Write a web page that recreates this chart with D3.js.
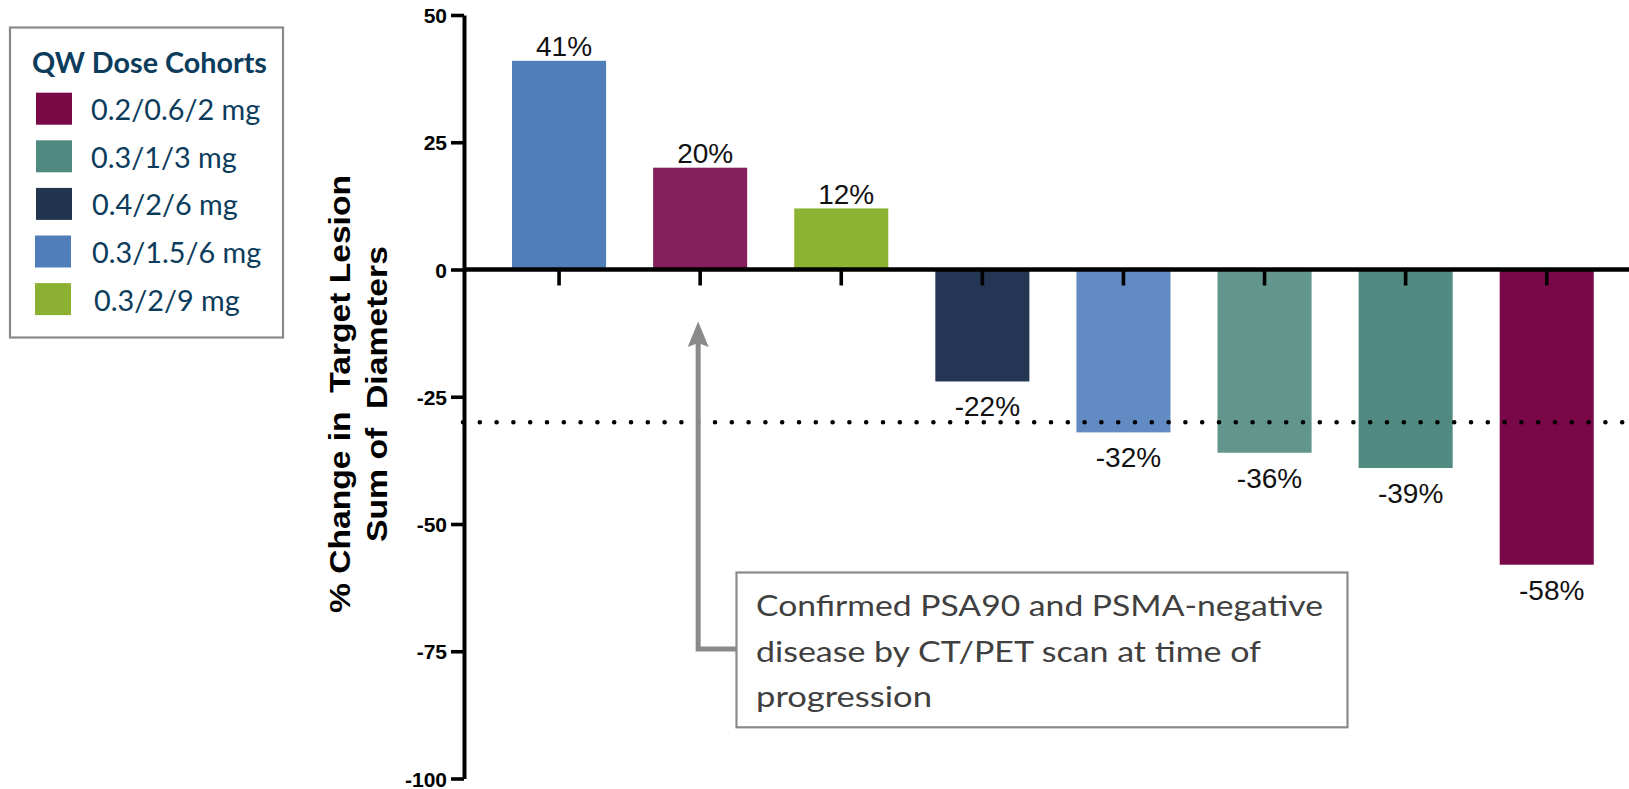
<!DOCTYPE html>
<html>
<head>
<meta charset="utf-8">
<script src="https://cdn.jsdelivr.net/npm/d3@7"></script>
<style>
  html, body { margin: 0; padding: 0; background: #ffffff; }
  svg { display: block; }
</style>
</head>
<body>
<svg id="chart" width="1629" height="789"></svg>
<script>
// Dose cohorts shown in the legend
const cohorts = ["0.2/0.6/2 mg", "0.3/1/3 mg", "0.4/2/6 mg", "0.3/1.5/6 mg", "0.3/2/9 mg"];
const cohortColors = ["#790846", "#4F8A80", "#22354F", "#4F7EBB", "#8CB132"];

// One bar per patient: best % change in target lesion sum of diameters
const patients = ["Pt 1", "Pt 2", "Pt 3", "Pt 4", "Pt 5", "Pt 6", "Pt 7", "Pt 8"];
const changeValues = [41, 20, 12, -22, -32, -36, -39, -58];
const patientCohort = ["0.3/1.5/6 mg", "0.2/0.6/2 mg", "0.3/2/9 mg", "0.4/2/6 mg",
                       "0.3/1.5/6 mg", "0.3/1/3 mg", "0.3/1/3 mg", "0.2/0.6/2 mg"];
// Individual bar shades (slight tint variations within a cohort)
const barShades = ["#4F7EBB", "#84205C", "#8DB333", "#233654",
                   "#628BC3", "#62968C", "#508A80", "#790849"];

const yTicks = [-100, -75, -50, -25, 0, 25, 50];
const responseThreshold = -30;

const annotationLines = [
  "Confirmed PSA90 and PSMA-negative",
  "disease by CT/PET scan at time of",
  "progression"
];
const annotatedPatient = "Pt 2";

const svg = d3.select("#chart");

const y = d3.scaleLinear().domain([-100, 50]).range([778.5, 15]);
const x = d3.scaleBand().domain(patients).range([465, 1640.8])
  .paddingInner(1 / 3).paddingOuter(1 / 3);
const cohortColor = d3.scaleOrdinal().domain(cohorts).range(cohortColors);

// ---- bars ----
svg.append("g").selectAll("rect")
  .data(patients)
  .join("rect")
  .attr("x", d => x(d))
  .attr("width", x.bandwidth())
  .attr("y", (d, i) => y(Math.max(0, changeValues[i])))
  .attr("height", (d, i) => Math.abs(y(changeValues[i]) - y(0)))
  .attr("fill", (d, i) => barShades[i] || cohortColor(patientCohort[i]));

// ---- value labels ----
svg.append("g").selectAll("text")
  .data(patients)
  .join("text")
  .attr("x", d => x(d) + x.bandwidth() / 2 + 5)
  .attr("y", (d, i) => changeValues[i] >= 0 ? y(changeValues[i]) - 4.5 : y(changeValues[i]) + 35)
  .attr("text-anchor", "middle")
  .attr("font-family", "'Liberation Sans', Arial, sans-serif")
  .attr("font-size", 28)
  .attr("fill", "#111111")
  .text((d, i) => `${changeValues[i]}%`);

// ---- response threshold (dotted) ----
svg.append("line")
  .attr("x1", 463).attr("x2", 1629)
  .attr("y1", y(responseThreshold)).attr("y2", y(responseThreshold))
  .attr("stroke", "#000")
  .attr("stroke-width", 4.6)
  .attr("stroke-linecap", "round")
  .attr("stroke-dasharray", "0 16.8");

// ---- zero baseline + category ticks ----
svg.append("line")
  .attr("x1", 463).attr("x2", 1629)
  .attr("y1", y(0)).attr("y2", y(0))
  .attr("stroke", "#000")
  .attr("stroke-width", 4.5);

const xAxis = svg.append("g")
  .attr("transform", `translate(0,${y(0)})`)
  .call(d3.axisBottom(x).tickSize(16).tickFormat(""));
xAxis.select(".domain").remove();
xAxis.selectAll(".tick line").attr("stroke", "#000").attr("stroke-width", 3.6);

// ---- y axis ----
const yAxis = svg.append("g")
  .attr("transform", "translate(464,0)")
  .call(d3.axisLeft(y).tickValues(yTicks).tickSize(13).tickSizeOuter(0).tickPadding(4)
    .tickFormat(d => String(d)));
yAxis.select(".domain").attr("stroke", "#000").attr("stroke-width", 4);
yAxis.selectAll(".tick line").attr("stroke", "#000").attr("stroke-width", 3.6);
yAxis.selectAll(".tick text")
  .attr("font-family", "'Liberation Sans', Arial, sans-serif")
  .attr("font-weight", "bold")
  .attr("font-size", 21)
  .attr("fill", "#000")
  .attr("dy", "0.36em");

// ---- y axis title ----
const titleLines = [
  { text: "% Change in  Target Lesion", bx: 350, len: 438 },
  { text: "Sum of  Diameters", bx: 387, len: 296 }
];
titleLines.forEach(t => {
  svg.append("text")
    .attr("transform", `translate(${t.bx},394) rotate(-90)`)
    .attr("text-anchor", "middle")
    .attr("font-family", "'Liberation Sans', Arial, sans-serif")
    .attr("font-weight", "bold")
    .attr("font-size", 29.5)
    .attr("fill", "#000")
    .attr("textLength", t.len)
    .attr("lengthAdjust", "spacingAndGlyphs")
    .style("white-space", "pre")
    .text(t.text);
});

// ---- legend ----
const legend = svg.append("g");
legend.append("rect")
  .attr("x", 10).attr("y", 27.5)
  .attr("width", 273).attr("height", 310)
  .attr("fill", "#fff")
  .attr("stroke", "#8a8a8a")
  .attr("stroke-width", 2.2);
legend.append("text")
  .attr("x", 32).attr("y", 73.3)
  .attr("font-family", "Lato, 'Open Sans', sans-serif")
  .attr("font-weight", "bold")
  .attr("font-size", 28)
  .attr("fill", "#0C3C5C")
  .attr("textLength", 235)
  .attr("lengthAdjust", "spacingAndGlyphs")
  .text("QW Dose Cohorts");

const legendItems = legend.selectAll("g.item")
  .data(cohorts)
  .join("g")
  .attr("class", "item")
  .attr("transform", (d, i) => `translate(0,${92.7 + i * 47.6})`);
legendItems.append("rect")
  .attr("x", (d, i) => i >= 3 ? 35 : 36)
  .attr("width", 36).attr("height", 32)
  .attr("fill", d => cohortColor(d));
legendItems.append("text")
  .attr("x", (d, i) => [91, 91, 92, 92, 94][i])
  .attr("y", 27.5)
  .attr("font-family", "Lato, 'Open Sans', sans-serif")
  .attr("font-size", 28.8)
  .attr("fill", "#0C3C5C")
  .text(d => d);

// ---- annotation: arrow + note box ----
const arrowX = x(annotatedPatient) + x.bandwidth() / 2 - 2;
const annGrey = "#8a8a8a";
svg.append("path")
  .attr("d", `M736,649 L${arrowX},649 L${arrowX},342`)
  .attr("fill", "none")
  .attr("stroke", annGrey)
  .attr("stroke-width", 5)
  .attr("stroke-linejoin", "miter");
svg.append("path")
  .attr("d", `M${arrowX},321.5 L${arrowX + 10.5},347 L${arrowX},343 L${arrowX - 10.5},347 Z`)
  .attr("fill", annGrey);

svg.append("rect")
  .attr("x", 736.5).attr("y", 572.5)
  .attr("width", 611).attr("height", 154.8)
  .attr("fill", "#fff")
  .attr("stroke", annGrey)
  .attr("stroke-width", 2.2);

const annLens = [567, 505, 176];
svg.append("g").selectAll("text")
  .data(annotationLines)
  .join("text")
  .attr("x", 756)
  .attr("y", (d, i) => 616 + i * 45.5)
  .attr("font-family", "Lato, 'Open Sans', sans-serif")
  .attr("font-size", 29.5)
  .attr("fill", "#404040")
  .attr("textLength", (d, i) => annLens[i])
  .attr("lengthAdjust", "spacingAndGlyphs")
  .text(d => d);
</script>
</body>
</html>
